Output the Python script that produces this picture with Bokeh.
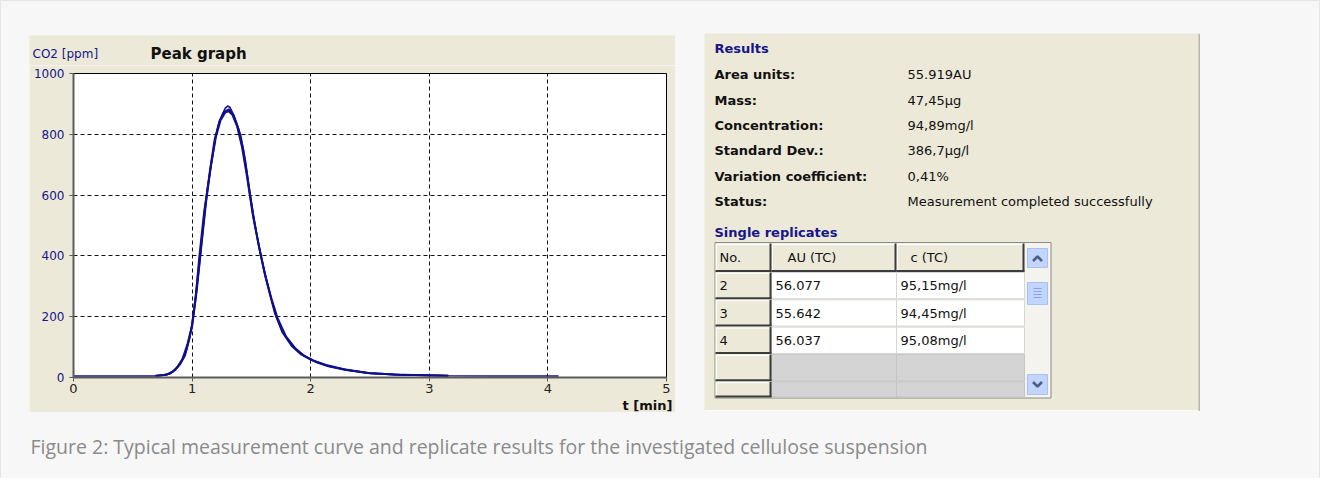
from bokeh.plotting import figure
from bokeh.layouts import row, column
from bokeh.models import Range1d, FixedTicker, Title, ColumnDataSource
from bokeh.core.properties import value
from bokeh.embed import file_html
from bokeh.resources import INLINE

# ---------------- data ----------------
x_ticks = [0, 1, 2, 3, 4, 5]
y_ticks = [0, 200, 400, 600, 800, 1000]

rep1_t = [0.00, 0.69, 0.72, 0.78, 0.83, 0.87, 0.91, 0.95, 0.98, 1.00, 1.03, 1.06, 1.10, 1.13, 1.17,
          1.20, 1.23, 1.26, 1.28, 1.30, 1.32, 1.35, 1.38, 1.41, 1.45, 1.49, 1.54, 1.58, 1.63, 1.67,
          1.71, 1.77, 1.85, 1.93, 2.00, 2.08, 2.16, 2.30, 2.50, 2.72, 3.00, 3.15, 3.50, 4.09]
rep1_ppm = [5, 5, 6, 8, 18, 32, 55, 86, 130, 179, 272, 400, 545, 625, 720,
            796, 842, 870, 886, 893, 888, 864, 832, 796, 712, 600, 482, 400, 318, 256,
            199, 146, 102, 74, 58, 46, 36, 25, 14, 9, 7, 6, 5, 5]

rep2_t = [0.69, 0.74, 0.79, 0.84, 0.88, 0.92, 0.96, 1.00, 1.03, 1.07, 1.11, 1.15, 1.19, 1.23, 1.27,
          1.31, 1.35, 1.39, 1.43, 1.47, 1.52, 1.57, 1.62, 1.67, 1.72, 1.79, 1.87, 1.95, 2.04, 2.15,
          2.30, 2.50, 2.75, 3.00, 3.16]
rep2_ppm = [6, 7, 10, 20, 36, 62, 108, 172, 262, 410, 560, 680, 782, 842, 874,
            882, 862, 818, 752, 650, 520, 420, 330, 258, 196, 136, 96, 70, 52, 37,
            25, 14, 9, 7, 6]

rep3_t = [0.70, 0.76, 0.81, 0.86, 0.90, 0.94, 0.97, 1.00, 1.04, 1.08, 1.12, 1.16, 1.20, 1.24, 1.28,
          1.31, 1.34, 1.38, 1.42, 1.46, 1.51, 1.56, 1.61, 1.66, 1.70, 1.76, 1.84, 1.92, 2.02, 2.14,
          2.28, 2.48, 2.70, 2.95, 3.16]
rep3_ppm = [6, 8, 12, 26, 44, 72, 118, 168, 290, 440, 585, 700, 790, 846, 872,
            876, 864, 826, 760, 668, 540, 438, 345, 268, 210, 150, 104, 76, 56, 40,
            27, 15, 10, 7, 6]

result_labels = ["Area units:", "Mass:", "Concentration:", "Standard Dev.:",
                 "Variation coefficient:", "Status:"]
result_values = ["55.919AU", "47,45\u00b5g", "94,89mg/l", "386,7\u00b5g/l", "0,41%",
                 "Measurement completed successfully"]
table_headers = ["No.", "AU (TC)", "c (TC)"]
rep_no = ["2", "3", "4"]
rep_au = ["56.077", "55.642", "56.037"]
rep_c = ["95,15mg/l", "94,45mg/l", "95,08mg/l"]
caption_text = "Figure 2: Typical measurement curve and replicate results for the investigated cellulose suspension"

# ---------------- styles ----------------
BEIGE = "#ece9d8"
NAVY = "#16168a"
CURVE = "#10108c"
FONT = "DejaVu Sans"
PAGE_BG = "#f7f7f7"


def blank(w, h, bg):
    f = figure(width=w, height=h, x_range=Range1d(0, w), y_range=Range1d(h, 0),
               output_backend="svg", toolbar_location=None, min_border=0,
               x_axis_location=None, y_axis_location=None,
               background_fill_color=bg, border_fill_color=bg, outline_line_color=None)
    f.grid.visible = False
    return f


def txt(fig, xs, ys, texts, size="13px", color="#111111", style="normal", font=FONT, align="left"):
    src = ColumnDataSource(dict(x=xs, y=ys, text=texts))
    fig.text("x", "y", "text", source=src, text_font=value(font), text_font_size=value(size),
             text_color=color, text_font_style=style, text_baseline="middle", text_align=align)


# ---------------- peak graph header ----------------
head = blank(646, 30, BEIGE)
head.margin = (34, 0, 0, 28)
txt(head, [3], [18], ["CO2 [ppm]"], size="12px", color=NAVY)
txt(head, [121], [18], ["Peak graph"], size="15px", style="bold")

# ---------------- peak graph ----------------
p = figure(width=646, height=347, x_range=Range1d(0, 5), y_range=Range1d(0, 1000),
           output_backend="svg", toolbar_location=None,
           min_border_left=44, min_border_right=9, min_border_top=8, min_border_bottom=35,
           background_fill_color="white", border_fill_color=BEIGE,
           outline_line_color="black", outline_line_width=1)
p.margin = (0, 0, 0, 28)

for ax in (p.xaxis[0], p.yaxis[0]):
    ax.minor_tick_line_color = None
    ax.axis_line_color = "#5c5c5c"
    ax.axis_line_width = 2
    ax.major_tick_line_color = "#5c5c5c"
    ax.major_tick_in = 0
    ax.major_tick_out = 4
    ax.major_label_text_font = FONT
p.xaxis.ticker = FixedTicker(ticks=x_ticks)
p.yaxis.ticker = FixedTicker(ticks=y_ticks)
p.xaxis.major_label_text_font_size = "13px"
p.xaxis.major_label_text_color = "#222222"
p.xaxis.major_label_standoff = 2
p.yaxis.major_label_text_font_size = "12px"
p.yaxis.major_label_text_color = NAVY
p.yaxis.major_label_standoff = 5

for g in (p.xgrid[0], p.ygrid[0]):
    g.grid_line_color = "#111111"
    g.grid_line_dash = "4 3"
    g.grid_line_width = 1

for tt, yy, lw in ((rep2_t, rep2_ppm, 2.0), (rep3_t, rep3_ppm, 2.0), (rep1_t, rep1_ppm, 1.6)):
    src = ColumnDataSource(dict(t=tt, ppm=yy))
    p.line("t", "ppm", source=src, line_color=CURVE, line_width=lw)

p.add_layout(Title(text="t [min]", align="right", offset=-6, standoff=0,
                   text_font=FONT, text_font_size="13px", text_font_style="bold",
                   text_color="#111111"), "below")

# ---------------- results panel ----------------
r = blank(496, 378, BEIGE)
r.margin = (32, 119, 0, 29)

r.quad(left=[494], right=[496], top=[0], bottom=[378], fill_color="#b8b6ac", line_color=None)
r.quad(left=[0], right=[494], top=[376.5], bottom=[378], fill_color="#fbfbf8", line_color=None)

label_y = [40.7, 66.7, 91.5, 116.7, 143.0, 168.0]
txt(r, [10], [15], ["Results"], color=NAVY, style="bold")
txt(r, [10] * 6, label_y, result_labels, style="bold")
txt(r, [203] * 6, label_y, result_values)
txt(r, [10], [198.5], ["Single replicates"], color=NAVY, style="bold")

col_edges = [11, 67, 192, 320]
head_top, head_bot = 210, 238
row_tops = [239, 266.3, 293.6, 321, 348.3]
row_h = 26.3
tbl_bottom = 363.5

r.quad(left=[10.5], right=[346.5], top=[209], bottom=[364.5], fill_color="#f4f3ee",
       line_color="#8a8a84", line_width=1)
r.quad(left=col_edges[:-1], right=col_edges[1:], top=[head_top] * 3, bottom=[head_bot] * 3,
       fill_color=BEIGE, line_color=None)
for i, top in enumerate(row_tops):
    bot = min(top + row_h, tbl_bottom)
    filled = i < len(rep_no)
    r.quad(left=[col_edges[0]], right=[col_edges[1]], top=[top], bottom=[bot],
           fill_color=BEIGE, line_color=None)
    r.quad(left=col_edges[1:3], right=col_edges[2:4], top=[top] * 2, bottom=[bot] * 2,
           fill_color="white" if filled else "#d4d4d4",
           line_color="#d6d6d2" if filled else "#c4c4c4", line_width=1)

hx0, hx1, hy0, hy1 = [], [], [], []
for a, b in zip(col_edges[:-1], col_edges[1:]):
    hx0 += [a + 1, a + 1]; hx1 += [b - 1, a + 1]; hy0 += [head_top + 1, head_top + 1]; hy1 += [head_top + 1, head_bot - 1]
for top in row_tops:
    bot = min(top + row_h, tbl_bottom)
    hx0 += [col_edges[0] + 1, col_edges[0] + 1]; hx1 += [col_edges[1] - 1, col_edges[0] + 1]
    hy0 += [top + 1, top + 1]; hy1 += [top + 1, bot - 1]
r.segment(x0=hx0, y0=hy0, x1=hx1, y1=hy1, line_color="white", line_width=1)

sx0, sx1, sy0, sy1 = [], [], [], []
for a, b in zip(col_edges[:-1], col_edges[1:]):
    sx0 += [a, b - 1]; sx1 += [b, b - 1]; sy0 += [head_bot - 0.5, head_top]; sy1 += [head_bot - 0.5, head_bot]
for top in row_tops:
    bot = min(top + row_h, tbl_bottom)
    sx0 += [col_edges[0], col_edges[1] - 1]; sx1 += [col_edges[1], col_edges[1] - 1]
    sy0 += [bot - 0.5, top]; sy1 += [bot - 0.5, bot]
r.segment(x0=sx0, y0=sy0, x1=sx1, y1=sy1, line_color="#3c3c3c", line_width=2)

txt(r, [15, 83, 206], [224, 224, 224], table_headers)
row_y = [t + 13.3 for t in row_tops[:3]]
txt(r, [15] * 3, row_y, rep_no)
txt(r, [71] * 3, row_y, rep_au)
txt(r, [196] * 3, row_y, rep_c)

r.quad(left=[323, 323, 323], right=[343, 343, 343], top=[215, 249, 341], bottom=[234, 271, 361],
       fill_color="#c2d5fc", line_color="#a9c0f0", line_width=1)
r.line(x=[328.5, 333, 337.5], y=[227.5, 223, 227.5], line_color="#4b5f86", line_width=2.5)
r.line(x=[328.5, 333, 337.5], y=[348.5, 353, 348.5], line_color="#4b5f86", line_width=2.5)
r.segment(x0=[329] * 4, x1=[337] * 4, y0=[255, 258, 261, 264], y1=[255, 258, 261, 264],
          line_color="#8aa6e0", line_width=1)

# ---------------- caption ----------------
c = blank(1290, 66, PAGE_BG)
c.margin = (0, 0, 0, 28)
txt(c, [1], [34], [caption_text], size="19.5px", color="#8a8a8a", font="Open Sans")

left_col = column(column(head), column(p), spacing=0)
top_row = row(left_col, column(r), spacing=0)
root = column(top_row, column(c), spacing=0,
              styles={"background-color": PAGE_BG, "border": "1px solid #e6e6e6",
                      "border-bottom": "none"})

open("out.html", "w").write(file_html(root, INLINE))
